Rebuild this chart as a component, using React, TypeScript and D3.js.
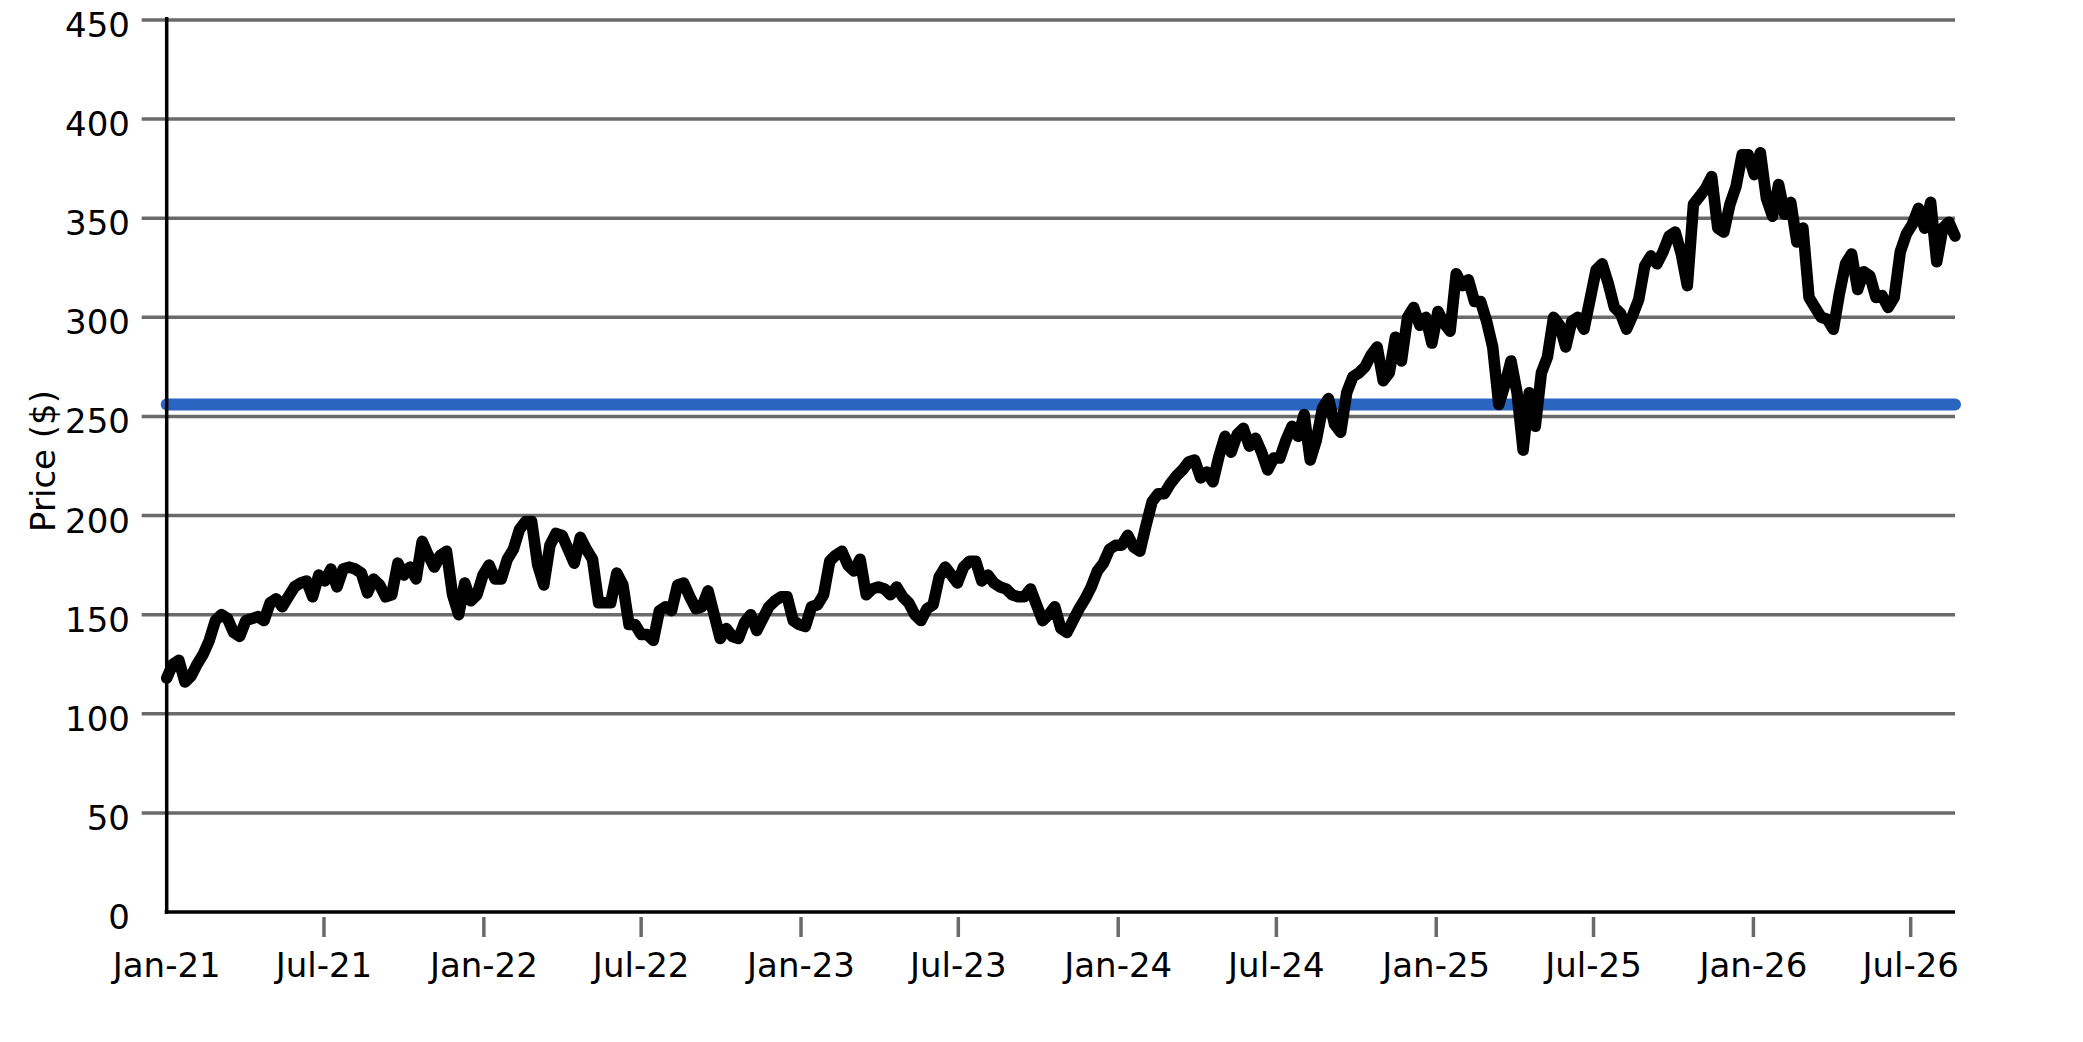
import * as d3 from 'd3'

// weekly closes, first week starting 2021-01-01
const START_DATE = '2021-01-01'
const WEEKLY_CLOSE = [
  118, 125, 127, 116, 119, 125, 130, 137, 147, 150,
  148, 141, 139, 147, 148, 149, 147, 156, 158, 154,
  159, 164, 166, 167, 159, 170, 167, 173, 164, 173,
  174, 173, 171, 161, 168, 165, 159, 160, 176, 170,
  174, 168, 187, 180, 174, 180, 182, 160, 150, 166,
  157, 160, 170, 175, 168,
  168, 178, 183, 193, 197, 197, 175, 165, 185, 191,
  190, 183, 176, 189, 183, 178, 156, 156, 156, 171,
  165, 145, 145, 140, 140, 137, 152, 154, 152, 165,
  166, 159, 153, 154, 162, 150, 138, 143, 139, 138,
  146, 150, 142, 148, 154, 157, 159, 159, 147, 145,
  144, 154, 155, 160, 177,
  180, 182, 175, 172, 178, 160, 163, 164, 163, 160,
  164, 159, 156, 150, 147, 153, 155, 169, 174, 170,
  166, 174, 177, 177, 167, 170, 166, 164, 163, 160,
  159, 159, 163, 155, 147, 150, 154, 143, 141, 147,
  153, 158, 164, 172, 176, 183, 185, 185, 190, 184,
  182, 195, 207, 211,
  211, 216, 220, 223, 227, 228, 219, 222, 217, 230,
  240, 232, 241, 244, 235, 239, 232, 223, 229, 229,
  238, 245, 240, 251, 228, 238, 254, 259, 246, 242,
  262, 270, 272, 275, 281, 285, 268, 272, 290, 278,
  300, 305, 296, 300, 287, 303, 297, 293, 322, 316,
  319, 308, 308,
  298, 285, 256, 266, 278, 262, 233, 262, 245, 272,
  280, 300, 296, 285, 298, 300, 294, 309, 324, 327,
  317, 305, 302, 294, 301, 309, 326, 331, 327, 333,
  341, 343, 332, 316, 357, 361, 365, 371, 345, 343,
  357, 366, 382, 382, 372, 383, 360, 351, 367, 352,
  358, 338,
  345, 310, 305, 300, 299, 294, 312, 327, 332, 314,
  323, 321, 310, 311, 305, 310, 333, 342, 347, 355,
  345, 358, 328, 345, 348, 341,
]

const REFERENCE_PRICE = 256

const X_TICK_DATES = [
  '2021-01-01', '2021-07-01', '2022-01-01', '2022-07-01', '2023-01-01', '2023-07-01',
  '2024-01-01', '2024-07-01', '2025-01-01', '2025-07-01', '2026-01-01', '2026-07-01',
]
const X_TICK_LABELS = [
  'Jan-21', 'Jul-21', 'Jan-22', 'Jul-22', 'Jan-23', 'Jul-23',
  'Jan-24', 'Jul-24', 'Jan-25', 'Jul-25', 'Jan-26', 'Jul-26',
]
const Y_TICKS = [0, 50, 100, 150, 200, 250, 300, 350, 400, 450]

const W = 2083
const H = 1042
const LEFT = 166.7
const RIGHT = 1955
const TOP = 20
const BOTTOM = 912
const FONT = '"DejaVu Sans", sans-serif'
const GRID = '#6a6a6a'

export default function App() {
  const parse = d3.utcParse('%Y-%m-%d')
  const start = parse(START_DATE) as Date
  const data = WEEKLY_CLOSE.map((v, i) => ({ date: d3.utcDay.offset(start, i * 7), v }))

  const x = d3.scaleUtc()
    .domain(d3.extent(data, d => d.date) as [Date, Date])
    .range([LEFT, RIGHT])
  const y = d3.scaleLinear().domain([0, 450]).range([BOTTOM, TOP])

  const line = d3.line<{ date: Date; v: number }>()
    .x(d => x(d.date))
    .y(d => y(d.v))

  const [x0, x1] = x.domain()

  return (
    <svg width={W} height={H} style={{ position: 'absolute', left: 0, top: 0, background: '#fff' }}
      fontFamily={FONT}>
      {/* horizontal grid + y ticks */}
      {Y_TICKS.map(t => (
        <g key={t}>
          {t > 0 && (
            <line x1={141.7} x2={RIGHT} y1={y(t)} y2={y(t)} stroke={GRID} strokeWidth={3.5} />
          )}
          <text x={130} y={y(t) + 17} textAnchor="end" fontSize={34} fill="#000">{t}</text>
        </g>
      ))}

      {/* reference price */}
      <line x1={x(x0)} x2={x(x1)} y1={y(REFERENCE_PRICE)} y2={y(REFERENCE_PRICE)}
        stroke="#2a65c1" strokeWidth={12} strokeLinecap="round" />

      {/* price series */}
      <path d={line(data) ?? ''} fill="none" stroke="#000" strokeWidth={11.5}
        strokeLinejoin="round" strokeLinecap="round" />

      {/* axes */}
      <line x1={LEFT} x2={LEFT} y1={17} y2={BOTTOM + 2} stroke="#000" strokeWidth={3.5} />
      <line x1={LEFT - 2} x2={RIGHT} y1={BOTTOM} y2={BOTTOM} stroke="#000" strokeWidth={3.5} />

      {X_TICK_DATES.map((d, i) => {
        const px = x(parse(d) as Date)
        return (
          <g key={d}>
            {i > 0 && <line x1={px} x2={px} y1={917} y2={937} stroke={GRID} strokeWidth={3.5} />}
            <text x={px} y={977} textAnchor="middle" fontSize={34} fill="#000">{X_TICK_LABELS[i]}</text>
          </g>
        )
      })}

      <text transform={`translate(55,${(TOP + BOTTOM) / 2 - 5}) rotate(-90)`} textAnchor="middle"
        fontSize={34} fill="#000">Price ($)</text>
    </svg>
  )
}
